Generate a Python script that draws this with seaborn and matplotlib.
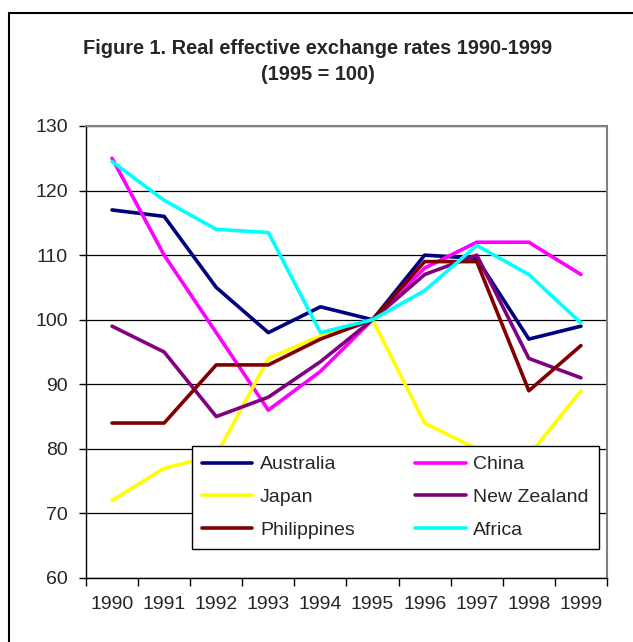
import numpy as np
import pandas as pd
import seaborn as sns
import matplotlib.pyplot as plt
from matplotlib.lines import Line2D

years = [1990, 1991, 1992, 1993, 1994, 1995, 1996, 1997, 1998, 1999]
australia = [117, 116, 105, 98, 102, 100, 110, 109.5, 97, 99]
china = [125, 110, 98, 86, 92, 100, 108, 112, 112, 107]
japan = [72, 77, 79, 94, 97.5, 100, 84, 80, 79, 89]
new_zealand = [99, 95, 85, 88, 93.5, 100, 107, 110, 94, 91]
philippines = [84, 84, 93, 93, 97, 100, 109, 109, 89, 96]
africa = [124.5, 118.5, 114, 113.5, 98, 100, 104.5, 111.5, 107, 99.5]

series = {
    'Australia': australia,
    'China': china,
    'Japan': japan,
    'New Zealand': new_zealand,
    'Philippines': philippines,
    'Africa': africa,
}
colors = {
    'Australia': '#000080',
    'China': '#FF00FF',
    'Japan': '#FFFF00',
    'New Zealand': '#800080',
    'Philippines': '#800000',
    'Africa': '#00FFFF',
}

# long format for seaborn
df = pd.DataFrame([
    {'year': y, 'value': v, 'country': name}
    for name, vals in series.items()
    for y, v in zip(years, vals)
])

sns.set_style('white')
plt.rcParams['font.family'] = ['Liberation Sans', 'DejaVu Sans']

fig = plt.figure(figsize=(6.33, 6.42), dpi=100)
ax = fig.add_axes([86 / 633, 1 - 578 / 642, 521 / 633, 452 / 642])

sns.lineplot(data=df, x='year', y='value', hue='country',
             hue_order=list(series.keys()), palette=colors,
             linewidth=2.6, ax=ax)

ax.set_xlim(1989.5, 1999.5)
ax.set_ylim(60, 130)
ax.set_yticks(range(60, 131, 10))
ax.set_xticks(years)
ax.set_xticklabels([str(y) for y in years])
ax.set_xticks(np.arange(1989.5, 1999.6, 1), minor=True)
ax.set_xlabel('')
ax.set_ylabel('')

ax.yaxis.grid(True, color='black', linewidth=0.9)
ax.xaxis.grid(False)
ax.set_axisbelow(True)

ax.tick_params(axis='y', which='major', direction='out', length=5, width=1,
               color='black', labelsize=14, pad=8, left=True)
ax.tick_params(axis='x', which='major', length=0, labelsize=14, pad=13)
ax.tick_params(axis='x', which='minor', direction='out', length=6, width=1,
               color='black', bottom=True)

for side in ['left', 'bottom']:
    ax.spines[side].set_color('black')
    ax.spines[side].set_linewidth(1)
for side in ['top', 'right']:
    ax.spines[side].set_color('#808080')
    ax.spines[side].set_linewidth(1.5)

# Excel-style legend, filled row by row
handles, labels = ax.get_legend_handles_labels()
lookup = dict(zip(labels, handles))
order = ['Australia', 'Japan', 'Philippines', 'China', 'New Zealand', 'Africa']
leg = ax.legend([lookup[k] for k in order], order, ncol=2,
                loc='upper left', bbox_to_anchor=(0.2035, 0.292),
                borderaxespad=0, fontsize=14, handlelength=2.6,
                handletextpad=0.4, columnspacing=3.1, labelspacing=0.78,
                borderpad=0.5, frameon=True, fancybox=False,
                framealpha=1, edgecolor='black')
leg.get_frame().set_linewidth(1)

fig.text(318 / 633, 1 - 48 / 642, 'Figure 1. Real effective exchange rates 1990-1999',
         ha='center', va='center', fontsize=14.4, fontweight='bold')
fig.text(318 / 633, 1 - 75 / 642, '(1995 = 100)',
         ha='center', va='center', fontsize=14.4, fontweight='bold')

# outer chart frame (left and top edges visible)
fig.add_artist(Line2D([9 / 633, 9 / 633], [0, 1 - 13 / 642],
                      transform=fig.transFigure, color='black', lw=1.5))
fig.add_artist(Line2D([9 / 633, 1], [1 - 13 / 642, 1 - 13 / 642],
                      transform=fig.transFigure, color='black', lw=1.5))

fig.savefig('out.png', dpi=100)
